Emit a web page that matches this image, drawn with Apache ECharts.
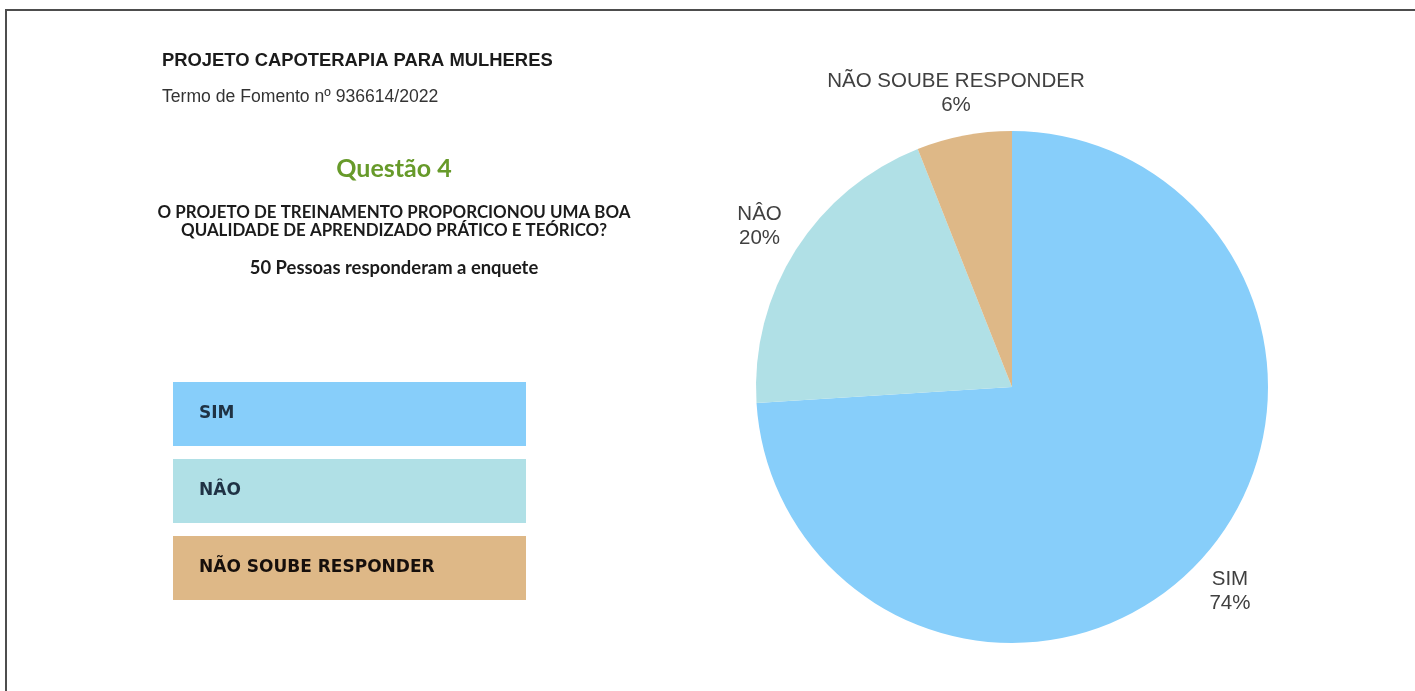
<!DOCTYPE html>
<html>
<head>
<meta charset="utf-8">
<script src="https://cdn.jsdelivr.net/npm/echarts@6/dist/echarts.min.js"></script>
<style>
  html, body { margin: 0; padding: 0; background: #ffffff; }
  #chart { width: 1415px; height: 691px; }
  .frame {
    position: absolute; left: 5px; top: 9px; width: 1420px; height: 700px;
    border-left: 2px solid #4d4d4d; border-top: 2px solid #4d4d4d;
    pointer-events: none;
  }
</style>
</head>
<body>
<div id="chart"></div>
<div class="frame"></div>
<script>
// Survey answers (50 respondents)
const categories = ['SIM', 'NÂO', 'NÃO SOUBE RESPONDER'];
const counts = [37, 10, 3];
const sliceColors = ['#87CEFA', '#B0E0E6', '#DEB887'];
const legendTextColors = ['#1f3244', '#1f3244', '#160f0c'];
const legendWeights = [600, 600, 800];

const pieData = categories.map((name, i) => ({
  name: name,
  value: counts[i],
  itemStyle: { color: sliceColors[i] }
}));

const rich = {};
categories.forEach((name, i) => {
  rich['b' + i] = {
    backgroundColor: sliceColors[i],
    width: 327,
    height: 64,
    lineHeight: 64,
    padding: [0, 0, 0, 26],
    fontFamily: 'DejaVu Sans',
    fontWeight: legendWeights[i],
    fontSize: 17,
    color: legendTextColors[i]
  };
});

const chart = echarts.init(document.getElementById('chart'), null, { renderer: 'canvas' });

chart.setOption({
  backgroundColor: '#ffffff',
  animation: false,
  title: [
    {
      text: 'PROJETO CAPOTERAPIA PARA MULHERES',
      left: 157, top: 47,
      textStyle: { fontFamily: 'Liberation Sans', fontWeight: 'bold', fontSize: 18.4, color: '#1b1b1b' }
    },
    {
      text: 'Termo de Fomento nº 936614/2022',
      left: 157, top: 83,
      textStyle: { fontFamily: 'Liberation Sans', fontWeight: 'normal', fontSize: 17.6, color: '#333333' }
    },
    {
      text: 'Questão 4',
      left: 389, top: 151, textAlign: 'center',
      textStyle: { fontFamily: 'Lato', fontWeight: 'bold', fontSize: 25, color: '#679a2a' }
    },
    {
      text: 'O PROJETO DE TREINAMENTO PROPORCIONOU UMA BOA\nQUALIDADE DE APRENDIZADO PRÁTICO E TEÓRICO?',
      left: 389, top: 199, textAlign: 'center',
      textStyle: { fontFamily: 'Lato', fontWeight: 'bold', fontSize: 16.9, lineHeight: 18, color: '#1b1b1b' }
    },
    {
      text: '50 Pessoas responderam a enquete',
      left: 389, top: 254, textAlign: 'center',
      textStyle: { fontFamily: 'Lato', fontWeight: 'bold', fontSize: 18.4, color: '#1b1b1b' }
    }
  ],
  legend: {
    orient: 'vertical',
    left: 163,
    top: 377,
    itemGap: 13,
    icon: 'none',
    itemWidth: 0,
    itemHeight: 0,
    selectedMode: false,
    data: categories,
    formatter: name => '{b' + categories.indexOf(name) + '|' + name + '}',
    textStyle: { rich: rich }
  },
  series: [
    {
      type: 'pie',
      center: [1012, 387],
      radius: 256,
      startAngle: 90,
      clockwise: true,
      silent: true,
      label: { show: false },
      labelLine: { show: false },
      itemStyle: { borderWidth: 0 },
      data: pieData
    },
    {
      // label ring: places each category/percent label just outside its slice
      type: 'pie',
      center: [1012, 387],
      radius: [276, 316],
      startAngle: 90,
      clockwise: true,
      silent: true,
      itemStyle: { color: 'rgba(0,0,0,0)' },
      label: {
        show: true,
        position: 'inside',
        formatter: '{b}\n{d}%',
        fontFamily: 'Liberation Sans',
        fontSize: 20.5,
        lineHeight: 24,
        color: '#404040'
      },
      labelLine: { show: false },
      data: categories.map((name, i) => ({ name: name, value: counts[i] }))
    }
  ]
});
</script>
</body>
</html>
